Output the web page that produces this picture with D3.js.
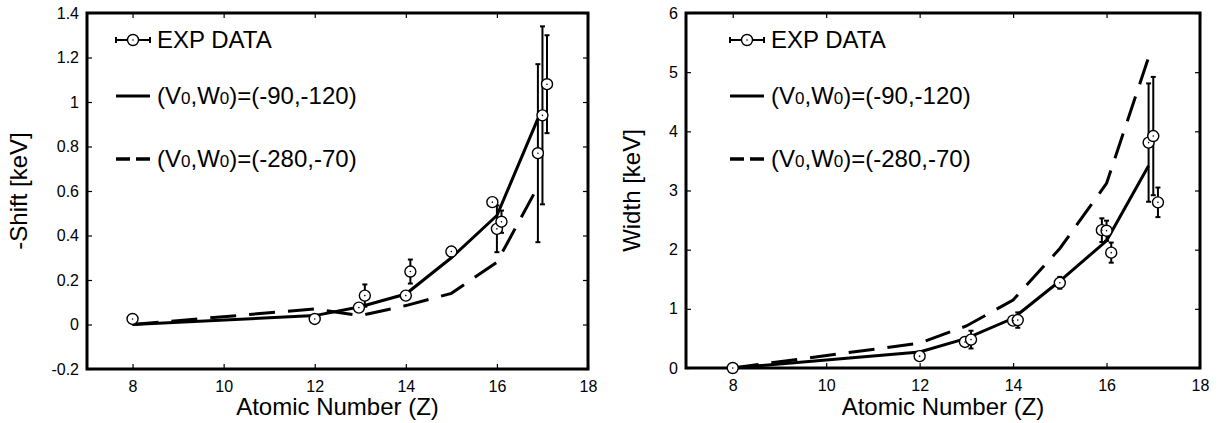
<!DOCTYPE html>
<html>
<head>
<meta charset="utf-8">
<script src="https://cdn.jsdelivr.net/npm/d3@7"></script>
<style>
    body { margin: 0; background: #fff; }
    svg { display: block; font-family: Arial, "Liberation Sans", Helvetica, sans-serif; }
</style>
</head>
<body>
<div id="chart"></div>
<script>
// measured points (both panels share the same Z values)
const zExp = [8, 12, 12.97, 13.1, 14, 14.1, 15, 15.9, 16, 16.1, 16.9, 17, 17.1];
const shiftExp = [0.025, 0.025, 0.076, 0.13, 0.13, 0.238, 0.328, 0.55, 0.43, 0.462, 0.77, 0.94, 1.08];
const shiftErr = [0, 0, 0, 0.05, 0, 0.054, 0, 0, 0.105, 0.05, 0.4, 0.4, 0.22];
const widthExp = [0, 0.2, 0.44, 0.48, 0.8, 0.81, 1.44, 2.33, 2.32, 1.95, 3.81, 3.92, 2.8];
const widthErr = [0, 0, 0, 0.15, 0, 0.13, 0.1, 0.2, 0.17, 0.17, 1.0, 1.0, 0.25];

// calculations
const zCalc = [8, 12, 13, 14, 15, 16, 16.9];
const shiftSolid = [0, 0.04, 0.08, 0.137, 0.30, 0.49, 0.925];
const shiftDashed = [0, 0.07, 0.04, 0.085, 0.14, 0.28, 0.62];
const widthSolid = [0, 0.27, 0.5, 0.84, 1.47, 2.15, 3.42];
const widthDashed = [0, 0.42, 0.71, 1.15, 2.02, 3.12, 5.25];

const xTicks = [8, 10, 12, 14, 16, 18];
const shiftTicks = [-0.2, 0, 0.2, 0.4, 0.6, 0.8, 1, 1.2, 1.4];
const widthTicks = [0, 1, 2, 3, 4, 5, 6];

const xTitle = "Atomic Number (Z)";
const expLabel = "EXP DATA";
// [text, isSubscript]
const solidLabel = [["(V", false], ["0", true], [",W", false], ["0", true], [")=(-90,-120)", false]];
const dashedLabel = [["(V", false], ["0", true], [",W", false], ["0", true], [")=(-280,-70)", false]];

const width = 1226;
const height = 423;

const svg = d3.select("#chart")
    .append("svg")
        .attr("width", width)
        .attr("height", height);

const drawPanel = (p) => {
    const xScale = d3.scaleLinear().domain([7, 18]).range([p.left, p.right]);
    const yScale = d3.scaleLinear().domain(p.yDomain).range([p.bottom, p.top]);

    const g = svg.append("g");

    // axes with inward ticks on all four sides
    const fmt = d => String(+d.toFixed(1));

    g.append("g")
        .attr("transform", `translate(0, ${p.bottom})`)
        .call(d3.axisBottom(xScale).tickValues(xTicks).tickSizeInner(-5).tickSizeOuter(0).tickPadding(12).tickFormat(fmt));
    g.append("g")
        .attr("transform", `translate(0, ${p.top})`)
        .call(d3.axisTop(xScale).tickValues(xTicks).tickSizeInner(-5).tickSizeOuter(0).tickFormat(""));
    g.append("g")
        .attr("transform", `translate(${p.left}, 0)`)
        .call(d3.axisLeft(yScale).tickValues(p.yTicks).tickSizeInner(-5).tickSizeOuter(0).tickPadding(8).tickFormat(fmt));
    g.append("g")
        .attr("transform", `translate(${p.right}, 0)`)
        .call(d3.axisRight(yScale).tickValues(p.yTicks).tickSizeInner(-5).tickSizeOuter(0).tickFormat(""));

    g.selectAll(".domain").remove();
    g.selectAll(".tick line").attr("stroke", "#000").attr("stroke-width", 1.2);
    g.selectAll(".tick text")
        .attr("fill", "#000")
        .style("font-size", "16px")
        .style("font-family", "Arial, 'Liberation Sans', sans-serif");

    // frame
    g.append("rect")
        .attr("x", p.left)
        .attr("y", p.top)
        .attr("width", p.right - p.left)
        .attr("height", p.bottom - p.top)
        .attr("fill", "none")
        .attr("stroke", "#000")
        .attr("stroke-width", 3);

    // titles
    g.append("text")
        .text(xTitle)
        .attr("x", (p.left + p.right) / 2)
        .attr("y", 415)
        .attr("text-anchor", "middle")
        .style("font-size", "24px");
    g.append("text")
        .text(p.yTitle)
        .attr("transform", `translate(${p.titleX}, ${(p.top + p.bottom) / 2}) rotate(-90)`)
        .attr("text-anchor", "middle")
        .style("font-size", "24px");

    // calculated curves
    const line = d3.line()
        .x(d => xScale(d[0]))
        .y(d => yScale(d[1]));

    g.append("path")
        .attr("d", line(d3.zip(zCalc, p.solid)))
        .attr("fill", "none")
        .attr("stroke", "#000")
        .attr("stroke-width", 3);
    g.append("path")
        .attr("d", line(d3.zip(zCalc, p.dashed)))
        .attr("fill", "none")
        .attr("stroke", "#000")
        .attr("stroke-width", 3)
        .attr("stroke-dasharray", "26,13");

    // experimental points
    const pts = zExp.map((z, i) => ({ z, v: p.exp[i], e: p.err[i] }));

    const bars = g.selectAll(".err")
        .data(pts.filter(d => d.e > 0))
        .join("g")
            .attr("class", "err");
    bars.append("line")
        .attr("x1", d => xScale(d.z))
        .attr("x2", d => xScale(d.z))
        .attr("y1", d => yScale(d.v - d.e))
        .attr("y2", d => yScale(d.v + d.e))
        .attr("stroke", "#000")
        .attr("stroke-width", 2);
    [-1, 1].forEach(s => {
        bars.append("line")
            .attr("x1", d => xScale(d.z) - 2.5)
            .attr("x2", d => xScale(d.z) + 2.5)
            .attr("y1", d => yScale(d.v + s * d.e))
            .attr("y2", d => yScale(d.v + s * d.e))
            .attr("stroke", "#000")
            .attr("stroke-width", 2);
    });

    g.selectAll(".pt")
        .data(pts)
        .join("circle")
            .attr("class", "pt")
            .attr("cx", d => xScale(d.z))
            .attr("cy", d => yScale(d.v))
            .attr("r", 5.5)
            .attr("fill", "#fff")
            .attr("stroke", "#000")
            .attr("stroke-width", 1.4);
    g.selectAll(".dot")
        .data(pts)
        .join("circle")
            .attr("class", "dot")
            .attr("cx", d => xScale(d.z))
            .attr("cy", d => yScale(d.v))
            .attr("r", 0.8)
            .attr("fill", "#000");

    // legend
    const lx0 = p.legendX;
    const lx1 = p.legendX + 34;
    const tx = p.legendX + 41;
    const rows = [40, 96, 159];

    g.append("line")
        .attr("x1", lx0).attr("x2", lx1)
        .attr("y1", rows[0]).attr("y2", rows[0])
        .attr("stroke", "#000").attr("stroke-width", 2);
    [lx0, lx1].forEach(x => {
        g.append("line")
            .attr("x1", x).attr("x2", x)
            .attr("y1", rows[0] - 3).attr("y2", rows[0] + 3)
            .attr("stroke", "#000").attr("stroke-width", 2);
    });
    g.append("circle")
        .attr("cx", (lx0 + lx1) / 2).attr("cy", rows[0]).attr("r", 5.5)
        .attr("fill", "#fff").attr("stroke", "#000").attr("stroke-width", 1.4);
    g.append("circle")
        .attr("cx", (lx0 + lx1) / 2).attr("cy", rows[0]).attr("r", 0.8)
        .attr("fill", "#000");

    g.append("line")
        .attr("x1", lx0).attr("x2", lx1)
        .attr("y1", rows[1]).attr("y2", rows[1])
        .attr("stroke", "#000").attr("stroke-width", 3);
    g.append("line")
        .attr("x1", lx0).attr("x2", lx1)
        .attr("y1", rows[2]).attr("y2", rows[2])
        .attr("stroke", "#000").attr("stroke-width", 3.5)
        .attr("stroke-dasharray", "14,6");

    g.append("text")
        .text(expLabel)
        .attr("x", tx).attr("y", rows[0]).attr("dy", "0.35em")
        .style("font-size", "24px");

    [[solidLabel, rows[1]], [dashedLabel, rows[2]]].forEach(([parts, y]) => {
        g.append("text")
            .attr("x", tx).attr("y", y).attr("dy", "0.35em")
            .style("font-size", "24px")
            .selectAll("tspan")
            .data(parts)
            .join("tspan")
                .style("font-size", d => d[1] ? "17px" : "24px")
                .text(d => d[0]);
    });
};

drawPanel({
    left: 87, right: 588, top: 13, bottom: 369,
    yDomain: [-0.2, 1.4], yTicks: shiftTicks,
    yTitle: "-Shift [keV]", titleX: 27,
    legendX: 116,
    exp: shiftExp, err: shiftErr,
    solid: shiftSolid, dashed: shiftDashed
});

drawPanel({
    left: 686, right: 1200, top: 13, bottom: 368,
    yDomain: [0, 6], yTicks: widthTicks,
    yTitle: "Width [keV]", titleX: 640,
    legendX: 730,
    exp: widthExp, err: widthErr,
    solid: widthSolid, dashed: widthDashed
});
</script>
</body>
</html>
